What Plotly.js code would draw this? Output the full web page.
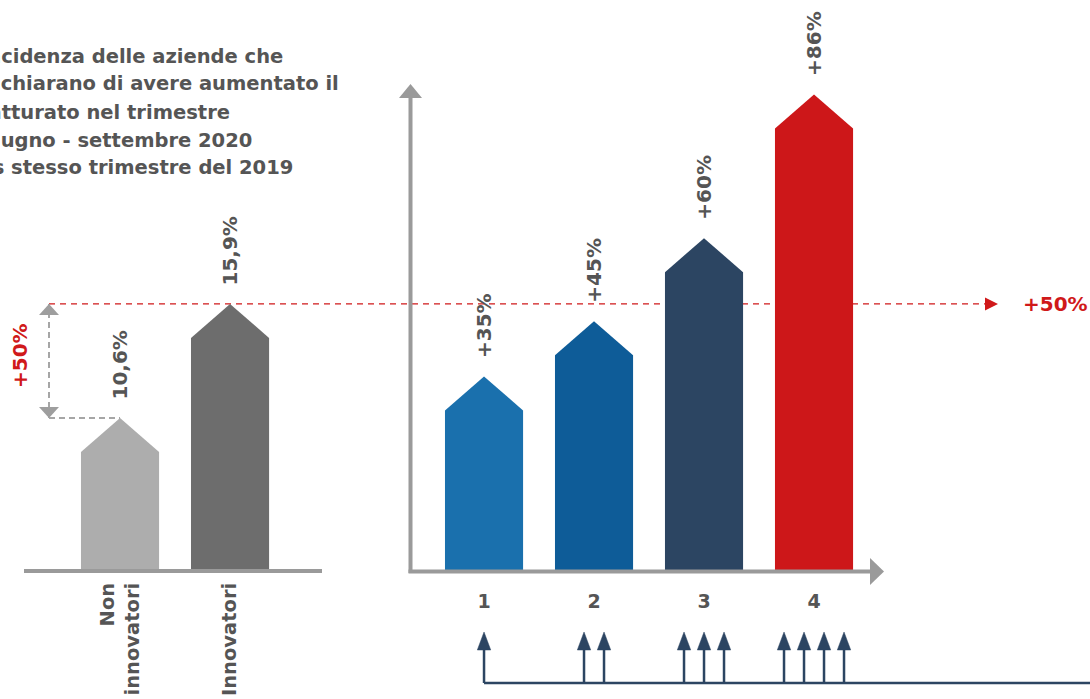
<!DOCTYPE html>
<html>
<head>
<meta charset="utf-8">
<script src="https://cdn.plot.ly/plotly-3.0.1.min.js"></script>
<style>
  html, body { margin: 0; padding: 0; background: #ffffff; }
  #chart { width: 1090px; height: 699px; }
</style>
</head>
<body>
<div id="chart"></div>
<script>
// Left panel: share of firms reporting higher turnover
const groupLabels = ['Non<br>innovatori', 'Innovatori'];
const groupValues = [10.6, 15.9];
const groupValueText = ['10,6%', '15,9%'];
const groupColors = ['#adadad', '#6d6d6d'];

// Right panel: turnover uplift by number of innovations
const levelLabels = ['1', '2', '3', '4'];
const levelValues = [35, 45, 60, 86];
const levelValueText = ['+35%', '+45%', '+60%', '+86%'];
const levelColors = ['#1a70ad', '#0e5c98', '#2c4562', '#cd1719'];
const levelArrowCounts = [1, 2, 3, 4];

const gapText = '+50%';

const titleLines = [
  'Incidenza delle aziende che',
  'dichiarano di avere aumentato il',
  'fatturato nel trimestre',
  'giugno - settembre 2020',
  'vs stesso trimestre del 2019'
];

// ---- page geometry (pixels) ----
const W = 1090, H = 699;
const plotBottom = 570;                 // baseline of both panels
const FONT = 'DejaVu Sans, sans-serif';
const TXT = '#555555';
const RED = '#d0191a';
const AXIS = '#9a9a9a';
const NAVY = '#2c4562';

const px = x => x / W;                  // pixel -> paper x
const py = y => 1 - y / H;              // pixel -> paper y

// axis ranges (value axes are hidden)
const leftYRange = [3.533, 30.03];
const rightYRange = [0, 103.07];
const leftXRange = [-0.873, 1.836];
const rightXRange = [-0.673, 5.509];
const bottomYRange = [-0.3137, 1.235];

const barHalf = 0.355;                  // half bar width, category units
const headPx = 34;                      // arrow head height in pixels

function headUnits(range) {
  return headPx * (range[1] - range[0]) / plotBottom;
}

function arrowBar(xc, v, base, hu, color, xa, ya) {
  return {
    type: 'scatter', mode: 'lines', fill: 'toself', fillcolor: color,
    line: { width: 0, color: color }, hoverinfo: 'skip', showlegend: false,
    xaxis: xa, yaxis: ya,
    x: [xc - barHalf, xc - barHalf, xc, xc + barHalf, xc + barHalf, xc - barHalf],
    y: [base, v - hu, v, v - hu, base, base]
  };
}

const traces = [];
const hL = headUnits(leftYRange);
groupValues.forEach((v, i) => traces.push(arrowBar(i, v, leftYRange[0], hL, groupColors[i], 'x', 'y')));
const hR = headUnits(rightYRange);
levelValues.forEach((v, i) => traces.push(arrowBar(i, v, rightYRange[0], hR, levelColors[i], 'x2', 'y2')));

// small arrows under the right panel: one arrow per innovation
const arrowGap = 20 / 110;
const shaftTop = 0.647, tipTop = 1.0, tipHalf = 0.061;
const shaftX = [], shaftY = [], headX = [], headY = [];
levelArrowCounts.forEach((n, k) => {
  for (let i = 0; i < n; i++) {
    const xc = k + (i - (n - 1) / 2) * arrowGap;
    shaftX.push(xc, xc, null); shaftY.push(0, shaftTop, null);
    headX.push(xc - tipHalf, xc, xc + tipHalf, xc - tipHalf, null);
    headY.push(shaftTop, tipTop, shaftTop, shaftTop, null);
  }
});
shaftX.push(0, rightXRange[1]); shaftY.push(0, 0);
traces.push({ type: 'scatter', mode: 'lines', x: shaftX, y: shaftY, xaxis: 'x2', yaxis: 'y3',
  line: { color: NAVY, width: 2.5 }, hoverinfo: 'skip', showlegend: false, connectgaps: false });
traces.push({ type: 'scatter', mode: 'lines', x: headX, y: headY, xaxis: 'x2', yaxis: 'y3',
  fill: 'toself', fillcolor: NAVY, line: { color: NAVY, width: 0.5 }, hoverinfo: 'skip', showlegend: false });

// ---- annotations ----
const annotations = [];
const titleY = [56, 84, 112, 140, 168];
titleLines.forEach((t, i) => annotations.push({
  text: t, xref: 'paper', yref: 'paper', x: px(-22), y: py(titleY[i]),
  xanchor: 'left', yanchor: 'middle', showarrow: false,
  font: { family: FONT, size: 19.5, color: TXT, weight: 700 }
}));

groupValues.forEach((v, i) => annotations.push({
  text: groupValueText[i], xref: 'x', yref: 'y', x: i, y: v, yshift: 16,
  xanchor: 'center', yanchor: 'bottom', textangle: -90, showarrow: false,
  font: { family: FONT, size: 20, color: TXT, weight: 700 }
}));
levelValues.forEach((v, i) => annotations.push({
  text: levelValueText[i], xref: 'x2', yref: 'y2', x: i, y: v, yshift: 16,
  xanchor: 'center', yanchor: 'bottom', textangle: -90, showarrow: false,
  font: { family: FONT, size: 20, color: TXT, weight: 700 }
}));

// gap between the two groups
annotations.push({
  text: gapText, xref: 'paper', yref: 'y', x: px(20), y: (groupValues[0] + groupValues[1]) / 2,
  yshift: 5, xanchor: 'center', yanchor: 'middle', textangle: -90, showarrow: false,
  font: { family: FONT, size: 20, color: RED, weight: 700 }
});
annotations.push({
  text: gapText, xref: 'paper', yref: 'y', x: px(1055), y: groupValues[1],
  xanchor: 'center', yanchor: 'middle', showarrow: false,
  font: { family: FONT, size: 20, color: RED, weight: 700 }
});

// ---- shapes ----
const shapes = [];
// red reference line at the innovators' level
shapes.push({ type: 'line', xref: 'paper', yref: 'y', x0: px(49), x1: px(986),
  y0: groupValues[1], y1: groupValues[1], line: { color: RED, width: 1.3, dash: '6px,5px' }, layer: 'below' });
shapes.push({ type: 'path', xref: 'paper', yref: 'y', xsizemode: 'pixel', ysizemode: 'pixel',
  xanchor: px(985), yanchor: groupValues[1], path: 'M0,6.5 L13,0 L0,-6.5 Z',
  fillcolor: RED, line: { width: 0 } });

// grey double arrow between the two groups
shapes.push({ type: 'line', xref: 'paper', yref: 'y', x0: px(49), x1: px(49),
  y0: groupValues[0], y1: groupValues[1], line: { color: '#a6a6a6', width: 2, dash: '6px,4px' } });
shapes.push({ type: 'line', xref: 'x', yref: 'y', x0: leftXRange[0] + (49 - 24) / 110, x1: 0,
  y0: groupValues[0], y1: groupValues[0], line: { color: '#a6a6a6', width: 2, dash: '6px,4px' } });
shapes.push({ type: 'path', xref: 'paper', yref: 'y', xsizemode: 'pixel', ysizemode: 'pixel',
  xanchor: px(49), yanchor: groupValues[1], path: 'M-10,-11 L0,0 L10,-11 Z',
  fillcolor: '#9e9e9e', line: { width: 0 } });
shapes.push({ type: 'path', xref: 'paper', yref: 'y', xsizemode: 'pixel', ysizemode: 'pixel',
  xanchor: px(49), yanchor: groupValues[0], path: 'M-10,11 L0,0 L10,11 Z',
  fillcolor: '#9e9e9e', line: { width: 0 } });

// axis lines
shapes.push({ type: 'line', xref: 'paper', yref: 'paper', x0: px(24), x1: px(322),
  y0: py(571), y1: py(571), line: { color: AXIS, width: 4 } });
shapes.push({ type: 'line', xref: 'paper', yref: 'paper', x0: px(410.5), x1: px(410.5),
  y0: py(573), y1: py(97), line: { color: AXIS, width: 4 } });
shapes.push({ type: 'path', xref: 'paper', yref: 'paper',
  path: `M${px(399)},${py(98)} L${px(410.5)},${py(84)} L${px(422)},${py(98)} Z`,
  fillcolor: AXIS, line: { width: 0 } });
shapes.push({ type: 'line', xref: 'paper', yref: 'paper', x0: px(408.5), x1: px(871),
  y0: py(571.5), y1: py(571.5), line: { color: AXIS, width: 4 } });
shapes.push({ type: 'path', xref: 'paper', yref: 'paper',
  path: `M${px(870)},${py(558)} L${px(884)},${py(571.5)} L${px(870)},${py(585)} Z`,
  fillcolor: AXIS, line: { width: 0 } });

const mainDomain = [py(plotBottom), 1];
const hidden = { visible: false, showgrid: false, zeroline: false, fixedrange: true };

const layout = {
  width: W, height: H,
  margin: { l: 0, r: 0, t: 0, b: 0, pad: 0 },
  paper_bgcolor: '#ffffff', plot_bgcolor: 'rgba(0,0,0,0)',
  showlegend: false,
  xaxis: {
    domain: [px(24), px(322)], range: leftXRange, anchor: 'y',
    tickmode: 'array', tickvals: groupLabels.map((_, i) => i), ticktext: groupLabels,
    tickangle: -90, ticks: 'outside', ticklen: 4, tickcolor: 'rgba(0,0,0,0)',
    showgrid: false, zeroline: false, showline: false,
    tickfont: { family: FONT, size: 19.5, color: TXT, weight: 700 }
  },
  yaxis: Object.assign({ domain: mainDomain, range: leftYRange, anchor: 'x' }, hidden),
  xaxis2: {
    domain: [px(410), 1], range: rightXRange, anchor: 'y2',
    tickmode: 'array', tickvals: levelLabels.map((_, i) => i), ticktext: levelLabels,
    ticks: 'outside', ticklen: 14, tickcolor: 'rgba(0,0,0,0)',
    showgrid: false, zeroline: false, showline: false,
    tickfont: { family: FONT, size: 19, color: TXT, weight: 700 }
  },
  yaxis2: Object.assign({ domain: mainDomain, range: rightYRange, anchor: 'x2' }, hidden),
  yaxis3: Object.assign({ domain: [0, py(620)], range: bottomYRange, anchor: 'x2' }, hidden),
  annotations: annotations,
  shapes: shapes
};

Plotly.newPlot('chart', traces, layout, { staticPlot: true, displayModeBar: false });
</script>
</body>
</html>
